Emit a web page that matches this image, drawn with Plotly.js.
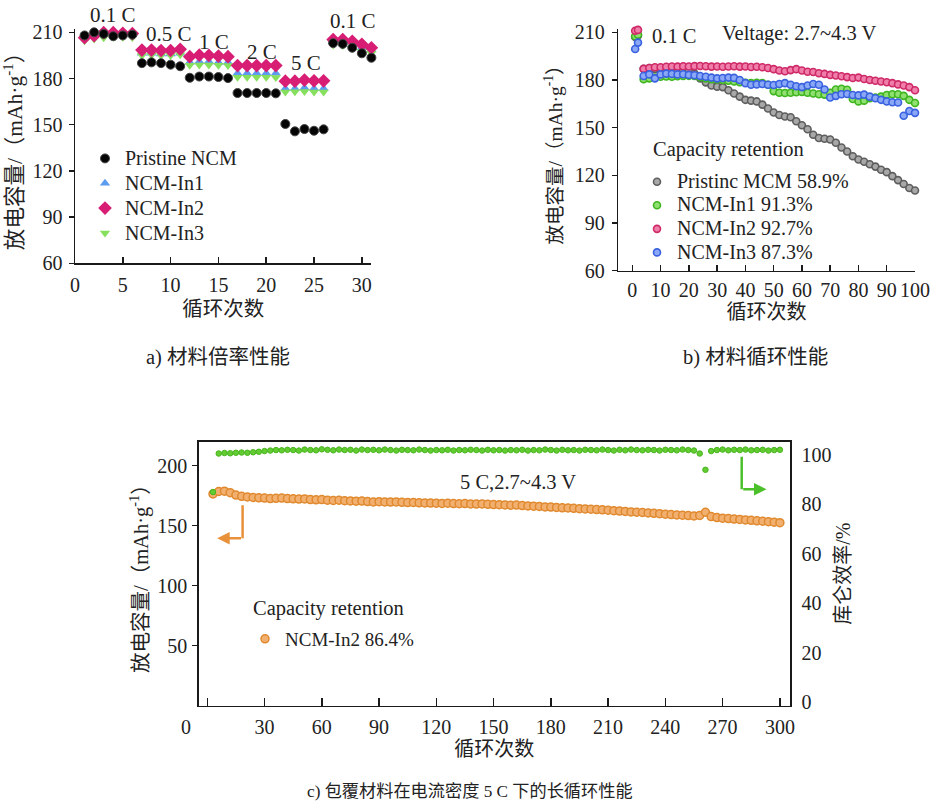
<!DOCTYPE html>
<html>
<head>
<meta charset="utf-8">
<script src="https://cdn.plot.ly/plotly-3.0.1.min.js"></script>
<style>html,body{margin:0;padding:0;background:#fff;}#chart{width:938px;height:806px;}</style>
</head>
<body>
<div id="chart"></div>
<script>
// ---------- Data: (a) rate performance ----------
const cyclesA = [1,2,3,4,5,6,7,8,9,10,11,12,13,14,15,16,17,18,19,20,21,22,23,24,25,26,27,28,29,30,31];
const pristineA = [208,210,209,207.5,208,208.5,190,190.5,190,189,188,180.5,181.3,181.3,181,180.3,170.6,170.6,170.6,170.6,170.4,150.5,145.7,147.2,146.1,147,203,202.5,200,196.4,193.5];
const in1A = [208,209,210,209.5,209,209,196.5,196.5,196,196,196.5,190.5,191,191,190.5,190.5,183.5,183.5,183.5,183.5,183.5,173.5,173.5,174,173.5,173.5,204,203.5,202,200,198.5];
const in2A = [206.5,207.8,209.8,209.8,209.4,209.2,198.5,198.5,198.2,198.2,199,194.2,195.2,195,194.6,194.2,188.4,188.4,188.4,188.4,188.4,178.3,178.3,179,178.5,178.5,205.3,205.3,204.2,202.2,200];
const in3A = [204.5,205.7,206.5,206.8,206.8,206.6,195,195.3,195,195,195.5,188.6,188.8,188.8,188.6,188.4,180.8,180.8,180.8,180.8,180.6,171.3,171.4,171.6,171.3,171.3,201.8,201.5,199.6,197.5,196.5];
const rateLabels = ['0.1 C','0.5 C','1 C','2 C','5 C','0.1 C'];
const namesA = ['Pristine NCM','NCM-In1','NCM-In2','NCM-In3'];

// ---------- Data: (b) cycling performance ----------
const cyclesB = [1,2,4,6,8,10,12,14,16,18,20,22,24,26,28,30,32,34,36,38,40,42,44,46,48,50,52,54,56,58,60,62,64,66,68,70,72,74,76,78,80,82,84,86,88,90,92,94,96,98,100];
const pristineB = [207,208,187,187.5,187,186.5,186.5,186,186,185.8,185.5,184,181,178.5,176.5,175.8,175.5,173.5,171.5,169.5,167.5,167,166.5,164.5,162,159.5,158,157,156.5,154,151.5,149,145.5,143.5,143,142.5,140.5,137.5,135,132,130,128.5,127,125.5,123.5,122,119.5,117,114.5,112,110.5];
const in1B = [207.5,208.5,180.5,181,181.5,182,182.2,182,182.4,182.5,182.6,182.5,181.8,181,180.5,180.3,180,179.5,179,178.6,178.2,178,178.2,178,177,173,172,171.8,172,172.3,172.5,172,171.5,171,170.8,172,174,174.5,173.8,168,166.5,167,168.5,169,169.5,170.5,171,171,170,167.5,165.5];
const in2B = [211,211.5,187,187.5,188,188,188.3,188.5,188.4,188.6,188.5,188.7,188.8,188.6,188.4,188.5,188.3,188.5,188.6,188.4,188.5,188.2,188.3,188,187.5,186.8,186,185.5,186.2,186.8,186,185.2,185,184.2,183.8,183.2,182.8,182.3,181.8,181.2,181.5,180.6,180,179.5,179,178.6,178,177.2,176.5,175.5,173.5];
const in3B = [199.5,203.5,182.5,183.5,181,183.5,184,183.8,183.5,183.6,183.2,183,182.5,182,181.5,181,181.2,181.5,181.3,180,178,177,177.2,177.5,177,176.8,177.5,178,177,176,175.5,176.5,177.5,177,174,169,170,171,171.2,170.5,170.3,170.8,169.5,168.5,167.5,166.5,166,165.8,157.5,160.5,159.3];
const namesB = ['Pristinc MCM 58.9%','NCM-In1 91.3%','NCM-In2 92.7%','NCM-In3 87.3%'];

// ---------- Data: (c) long cycling at 5 C ----------
const cyclesC = [3,6,9,12,15,18,21,24,27,30,33,36,39,42,45,48,51,54,57,60,63,66,69,72,75,78,81,84,87,90,93,96,99,102,105,108,111,114,117,120,123,126,129,132,135,138,141,144,147,150,153,156,159,162,165,168,171,174,177,180,183,186,189,192,195,198,201,204,207,210,213,216,219,222,225,228,231,234,237,240,243,246,249,252,255,258,261,264,267,270,273,276,279,282,285,288,291,294,297,300];
const capacityC = [176.5,178.5,178.8,177.5,175.5,174.5,174,173.5,173.2,173,
  172.6,172.8,173,172.6,172.4,172.2,172.3,171.8,171.6,171.8,
  171.3,171,171.2,170.8,170.6,170.4,170.5,170.1,169.8,170,
  169.8,169.7,169.8,169.5,169.3,169.4,169.1,169,168.9,168.8,
  168.6,168.7,168.4,168.3,168.4,168.1,168,168.1,167.8,167.6,
  167.5,167.3,167.1,167.2,166.8,166.5,166.3,166,165.6,165.5,
  165.2,164.9,164.8,164.5,164.2,164,163.7,163.4,163.2,162.9,
  162.5,162.2,161.9,161.5,161.2,161,160.6,160.3,160,159.6,
  159.3,159,158.7,158.4,158.1,158.6,161.2,157.6,156.8,156.3,
  155.9,155.5,155.2,154.8,154.5,154.1,153.7,153.3,152.9,152.5];
const efficiencyC = [85,100.6,100.8,100.7,100.9,101,100.9,101.1,101.3,101.6,
  101.8,102,101.9,102.1,102,101.8,102.2,102,101.9,102.3,
  102.1,101.9,102.2,102,102.1,101.8,102.2,102,102.1,101.9,
  102.2,102,101.8,102.1,102,101.9,102.2,102,101.8,102,
  101.9,102.1,101.8,102,101.9,102.1,102,101.8,102.1,101.9,
  102,101.8,102,101.9,102.1,101.8,102,101.9,102.2,102,
  101.8,102.1,101.9,102,101.8,102.1,102,101.9,102.2,102,
  101.8,102.1,101.9,102.2,102,101.9,102.1,102,101.8,102.1,
  102,101.9,102.2,102,101.8,100.6,94,101.6,102,102.2,
  101.9,102.1,102,102.2,101.9,102,102.1,101.8,102,102.1];
const nameC = 'NCM-In2 86.4%';

// ---------- Layout helpers (pixel -> paper) ----------
const W = 938, H = 806;
const px = x => x / W;
const py = y => 1 - y / H;
const SERIF = "'Liberation Serif', 'Noto Sans CJK SC', serif";
const FS = 20;
const AX = '#1a1a1a';
const big = (t, s) => '<span style="font-size:' + s + 'px">' + t + '</span>';

const traces = [];
// (a)
traces.push({x: cyclesA, y: in1A, name: big(namesA[1], 20), type: 'scatter', mode: 'markers', xaxis: 'x', yaxis: 'y', legend: 'legend', legendrank: 2,
  marker: {symbol: 'triangle-up', size: 9, color: '#5c9cf0'}, cliponaxis: false});
traces.push({x: cyclesA, y: in3A, name: big(namesA[3], 20), type: 'scatter', mode: 'markers', xaxis: 'x', yaxis: 'y', legend: 'legend', legendrank: 4,
  marker: {symbol: 'triangle-down', size: 9, color: '#86e05e'}, cliponaxis: false});
traces.push({x: cyclesA, y: in2A, name: big(namesA[2], 20), type: 'scatter', mode: 'markers', xaxis: 'x', yaxis: 'y', legend: 'legend', legendrank: 3,
  marker: {symbol: 'diamond', size: 10.5, color: '#d81e74'}, cliponaxis: false});
traces.push({x: cyclesA, y: pristineA, name: big(namesA[0], 20), type: 'scatter', mode: 'markers', xaxis: 'x', yaxis: 'y', legend: 'legend', legendrank: 1,
  marker: {symbol: 'circle', size: 9, color: '#050505', line: {color: '#444', width: 1}}, cliponaxis: false});
// (b)
const bStyle = [
  {fill: '#a8a8a8', line: '#5e5e5e'},
  {fill: '#8fe070', line: '#3fb51f'},
  {fill: '#f07eaa', line: '#cf2a68'},
  {fill: '#8aa8f6', line: '#3a62e0'}
];
const seriesB = [pristineB, in1B, in2B, in3B];
seriesB.forEach((s, i) => {
  traces.push({x: cyclesB, y: s, name: big(namesB[i], 20), type: 'scatter', mode: 'markers', xaxis: 'x2', yaxis: 'y2', legend: 'legend2',
    marker: {symbol: 'circle', size: 7, color: bStyle[i].fill, line: {color: bStyle[i].line, width: 1.6}}, cliponaxis: false});
});
// (c)
traces.push({x: cyclesC, y: efficiencyC, name: 'CE', showlegend: false, type: 'scatter', mode: 'markers', xaxis: 'x3', yaxis: 'y4',
  marker: {symbol: 'circle', size: 5.5, color: '#62cc32', line: {color: '#48b51e', width: 1}}, cliponaxis: false});
traces.push({x: cyclesC, y: capacityC, name: nameC, type: 'scatter', mode: 'markers', xaxis: 'x3', yaxis: 'y3', legend: 'legend3',
  marker: {symbol: 'circle', size: 8, color: '#f2b070', line: {color: '#e0892e', width: 1.5}}, cliponaxis: false});

const baseAxis = {
  showline: true, linecolor: AX, linewidth: 1.5, zeroline: false, showgrid: false,
  tickcolor: AX, tickwidth: 1.5, tickfont: {family: SERIF, size: FS, color: '#222'}
};
const ytitle = '放电容量/（mAh·g<sup>-1</sup>）';

const layout = {
  width: W, height: H,
  margin: {l: 0, r: 0, t: 0, b: 0},
  paper_bgcolor: '#fff', plot_bgcolor: 'rgba(0,0,0,0)',
  font: {family: SERIF, size: FS, color: '#222'},
  showlegend: true,
  xaxis: Object.assign({}, baseAxis, {domain: [px(75), px(371.4)], range: [0, 31], anchor: 'y',
    tickvals: [0,5,10,15,20,25,30], ticks: 'inside', ticklen: 6, ticklabelstandoff: 3,
    title: {text: '循环次数', standoff: 7, font: {family: SERIF, size: 20.5}}}),
  yaxis: Object.assign({}, baseAxis, {domain: [py(263.3), py(28.5)], range: [60, 212.5], anchor: 'x',
    tickvals: [60,90,120,150,180,210], ticks: 'outside', ticklen: 5, ticklabelstandoff: 2,
    title: {text: ytitle, standoff: 8, font: {family: SERIF, size: 21.5}}}),
  xaxis2: Object.assign({}, baseAxis, {domain: [px(618.2), px(915)], range: [-5, 100], anchor: 'y2',
    tickvals: [0,10,20,30,40,50,60,70,80,90,100], ticks: 'inside', ticklen: 6, ticklabelstandoff: 1,
    title: {text: '循环次数', standoff: 5, font: {family: SERIF, size: 20}}}),
  yaxis2: Object.assign({}, baseAxis, {domain: [py(270.7), py(29.1)], range: [60, 212], anchor: 'x2',
    tickvals: [60,90,120,150,180,210], ticks: 'outside', ticklen: 5, ticklabelstandoff: 3,
    title: {text: ytitle, standoff: 7, font: {family: SERIF, size: 19.5}}}),
  xaxis3: Object.assign({}, baseAxis, {domain: [px(198.7), px(790)], range: [-4.5, 305.3], anchor: 'y3', mirror: true,
    tickvals: [0,30,60,90,120,150,180,210,240,270,300], ticktext: ['','30','60','90','120','150','180','210','240','270','300'],
    ticks: 'inside', ticklen: 8, ticklabelstandoff: 3,
    title: {text: '循环次数', standoff: 3, font: {family: SERIF, size: 20}}}),
  yaxis3: Object.assign({}, baseAxis, {domain: [py(705.7), py(441.7)], range: [0, 220], anchor: 'x3', mirror: true,
    tickvals: [50,100,150,200], ticks: 'outside', ticklen: 5, ticklabelstandoff: 1,
    title: {text: ytitle, standoff: 3, font: {family: SERIF, size: 20.5}}}),
  yaxis4: Object.assign({}, baseAxis, {overlaying: 'y3', side: 'right', anchor: 'x3', range: [-1.498, 105.385],
    tickvals: [0,20,40,60,80,100], ticks: '', ticklabelstandoff: 6,
    title: {text: '库仑效率/%', standoff: 5, font: {family: SERIF, size: 20}}}),
  legend: {x: px(85), y: py(141), xanchor: 'left', yanchor: 'top', bgcolor: 'rgba(0,0,0,0)',
    font: {family: SERIF, size: 16.8, color: '#222'}, tracegroupgap: 0},
  legend2: {x: px(637), y: py(165), xanchor: 'left', yanchor: 'top', bgcolor: 'rgba(0,0,0,0)',
    font: {family: SERIF, size: 15.8, color: '#222'}, traceorder: 'normal'},
  legend3: {x: px(245), y: py(620), xanchor: 'left', yanchor: 'top', bgcolor: 'rgba(0,0,0,0)',
    font: {family: SERIF, size: 19, color: '#222'}},
  shapes: [
    {type: 'line', xref: 'x3', yref: 'y3', x0: 18.5, x1: 18.5, y0: 167, y1: 139.5, line: {color: '#e8913a', width: 2.5}},
    {type: 'line', xref: 'x3', yref: 'y3', x0: 280, x1: 280, y0: 207.5, y1: 180.3, line: {color: '#4cc02a', width: 2.5}}
  ],
  annotations: []
};

const ann = (text, x, y, xanchor, size) => ({text, x: px(x), y: py(y), xref: 'paper', yref: 'paper',
  xanchor: xanchor || 'center', yanchor: 'middle', showarrow: false, font: {family: SERIF, size: size || FS, color: '#222'}});

const ratePos = [[113,15],[169,34],[214,42],[262,52],[306,63],[353,21]];
rateLabels.forEach((t, i) => layout.annotations.push(ann(t, ratePos[i][0], ratePos[i][1], 'center', 21)));
layout.annotations.push(ann('0.1 C', 650, 36, 'left', 20.5));
layout.annotations.push(ann('Veltage: 2.7~4.3 V', 720, 34, 'left', 20.5));
layout.annotations.push(ann('Capacity retention', 651, 150, 'left', 20.5));
layout.annotations.push(ann('5 C,2.7~4.3 V', 518, 482, 'center', 20.5));
layout.annotations.push(ann('Capacity retention', 251, 608, 'left', 20.5));
layout.annotations.push(ann('0', 186, 727, 'center', 20));
layout.annotations.push(ann('a) 材料倍率性能', 218, 357, 'center', 20.5));
layout.annotations.push(ann('b) 材料循环性能', 755, 357, 'center', 20.5));
layout.annotations.push(ann('c) 包覆材料在电流密度 5 C 下的长循环性能', 470, 791, 'center', 17.2));
// L-shaped arrows in (c)
layout.annotations.push({x: 5.2, y: 139.5, xref: 'x3', yref: 'y3', ax: 18.5, ay: 139.5, axref: 'x3', ayref: 'y3', text: '',
  showarrow: true, arrowhead: 2, arrowsize: 1, arrowwidth: 2.5, arrowcolor: '#e8913a'});
layout.annotations.push({x: 293, y: 180.3, xref: 'x3', yref: 'y3', ax: 280, ay: 180.3, axref: 'x3', ayref: 'y3', text: '',
  showarrow: true, arrowhead: 2, arrowsize: 1, arrowwidth: 2.5, arrowcolor: '#4cc02a'});

Plotly.newPlot('chart', traces, layout, {displayModeBar: false, staticPlot: true});
</script>
</body>
</html>
